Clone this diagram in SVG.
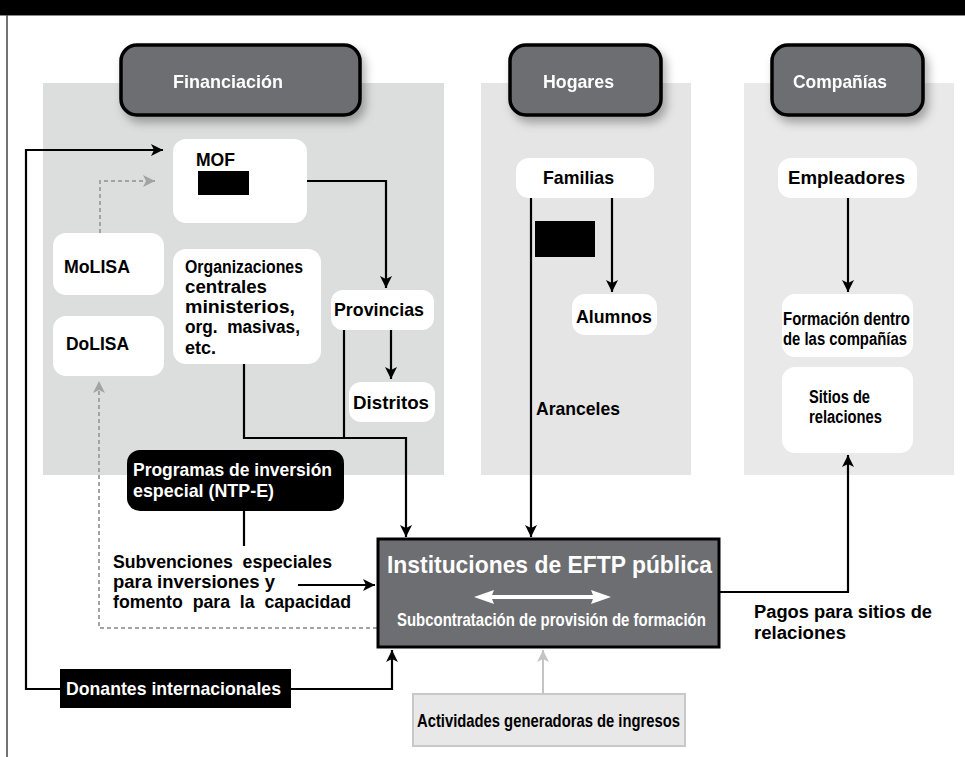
<svg xmlns="http://www.w3.org/2000/svg" width="965" height="757" viewBox="0 0 965 757">
<defs>
<style>
text{font-family:"Liberation Sans Narrow","Liberation Sans",Arial,sans-serif;font-weight:bold;}
.tab rect{fill:#6d6e71;stroke:#000;stroke-width:3.5;}
.tab text{fill:#fff;font-size:19px;}
.node{fill:#fff;}
.t18{font-size:19px;fill:#000;}
.t16{font-size:18px;fill:#000;}
.wt{fill:#fff;}
.ln{fill:none;stroke:#000;stroke-width:2.2;}
.ar{fill:none;stroke:#000;stroke-width:2.2;marker-end:url(#ah);}
.dash{fill:none;stroke:#a3a3a3;stroke-width:2;stroke-dasharray:4 3;marker-end:url(#ahg);}
.red{fill:#000;}
</style>
<marker id="ah" markerUnits="userSpaceOnUse" markerWidth="14" markerHeight="14" refX="12" refY="6" orient="auto">
<path d="M0,0 L12,6 L0,12 L3,6 Z" fill="#000"/>
</marker>
<marker id="ahg" markerUnits="userSpaceOnUse" markerWidth="14" markerHeight="14" refX="12" refY="6" orient="auto">
<path d="M0,0 L12,6 L0,12 L3,6 Z" fill="#a3a3a3"/>
</marker>
<marker id="ahl" markerUnits="userSpaceOnUse" markerWidth="14" markerHeight="14" refX="12" refY="6" orient="auto">
<path d="M0,0 L12,6 L0,12 L3,6 Z" fill="#c4c4c4"/>
</marker>
<filter id="sh" x="-20%" y="-20%" width="150%" height="160%">
<feDropShadow dx="4" dy="6" stdDeviation="5" flood-color="#000" flood-opacity="0.3"/>
</filter>
</defs>

<rect x="0" y="0" width="965" height="757" fill="#fff"/>
<g id="banner">
<rect x="0" y="0" width="965" height="15" fill="#000"/>
<line x1="0" y1="15.5" x2="965" y2="15.5" stroke="#888" stroke-width="1"/>
<line x1="7" y1="15" x2="7" y2="757" stroke="#444" stroke-width="1.5"/>
</g>

<g id="panels">
<rect x="43" y="83" width="401" height="392" fill="#dcdddd"/>
<rect x="481" y="83" width="210" height="392" fill="#e5e5e6"/>
<rect x="744" y="83" width="210" height="392" fill="#e9e9e9"/>
</g>

<g id="tab-financiacion" class="tab" filter="url(#sh)">
<rect x="121" y="45" width="239" height="70" rx="16"/>
<text x="173" y="88" textLength="110" lengthAdjust="spacingAndGlyphs">Financiación</text>
</g>
<g id="tab-hogares" class="tab" filter="url(#sh)">
<rect x="510" y="45" width="151" height="70" rx="16"/>
<text x="543" y="88" textLength="71" lengthAdjust="spacingAndGlyphs">Hogares</text>
</g>
<g id="tab-companias" class="tab" filter="url(#sh)">
<rect x="772" y="45" width="151" height="70" rx="16"/>
<text x="793" y="88" textLength="94" lengthAdjust="spacingAndGlyphs">Compañías</text>
</g>

<g id="connectors">
<path class="ar" d="M60,689 H26 V150 H163"/>
<path class="dash" d="M100,233 V181 H155"/>
<path class="ar" d="M307,181 H386 V288"/>
<path class="ar" d="M391,330 V379"/>
<path class="ln" d="M344,330 V438"/>
<path class="ar" d="M244,364 V438 H406 V537"/>
<path class="ln" d="M244,511 V546"/>
<path class="ar" d="M298,585 H375"/>
<path class="dash" d="M377,628 H99 V381"/>
<path class="ar" d="M291,689 H392 V650"/>
<path fill="none" stroke="#c4c4c4" stroke-width="2" marker-end="url(#ahl)" d="M543,694 V650"/>
<path class="ar" d="M531,198 V537"/>
<path class="ar" d="M612,198 V292"/>
<path class="ar" d="M848,198 V292"/>
<path class="ar" d="M719,592 H848 V455"/>
</g>

<g id="mof">
<rect class="node" x="173" y="139" width="134" height="84" rx="13"/>
<text class="t18" x="196" y="166" textLength="39" lengthAdjust="spacingAndGlyphs">MOF</text>
<rect class="red" x="198" y="171" width="51" height="24"/>
</g>
<g id="molisa">
<rect class="node" x="53" y="233" width="111" height="62" rx="13"/>
<text class="t18" x="64" y="273" textLength="66" lengthAdjust="spacingAndGlyphs">MoLISA</text>
</g>
<g id="dolisa">
<rect class="node" x="53" y="316" width="111" height="60" rx="13"/>
<text class="t18" x="66" y="350" textLength="63" lengthAdjust="spacingAndGlyphs">DoLISA</text>
</g>
<g id="organizaciones">
<rect class="node" x="173" y="249" width="148" height="115" rx="13"/>
<text class="t16" x="185" y="273" textLength="118" lengthAdjust="spacingAndGlyphs">Organizaciones</text>
<text class="t16" x="185" y="293" textLength="82" lengthAdjust="spacingAndGlyphs">centrales</text>
<text class="t16" x="185" y="313" textLength="110" lengthAdjust="spacingAndGlyphs">ministerios,</text>
<text class="t16" x="185" y="333" textLength="115" lengthAdjust="spacingAndGlyphs" xml:space="preserve">org.  masivas,</text>
<text class="t16" x="185" y="354" textLength="31" lengthAdjust="spacingAndGlyphs">etc.</text>
</g>
<g id="provincias">
<rect class="node" x="331" y="290" width="103" height="40" rx="12"/>
<text class="t18" x="334" y="316" textLength="90" lengthAdjust="spacingAndGlyphs">Provincias</text>
</g>
<g id="distritos">
<rect class="node" x="349" y="382" width="86" height="40" rx="12"/>
<text class="t18" x="353" y="409" textLength="76" lengthAdjust="spacingAndGlyphs">Distritos</text>
</g>
<g id="ntpe">
<rect x="127" y="450" width="217" height="61" rx="13" fill="#000"/>
<text class="wt" x="133" y="476" font-size="19" textLength="199" lengthAdjust="spacingAndGlyphs">Programas de inversión</text>
<text class="wt" x="133" y="497" font-size="19" textLength="141" lengthAdjust="spacingAndGlyphs">especial (NTP-E)</text>
</g>
<g id="subvenciones">
<text class="t18" x="113" y="568" textLength="219" lengthAdjust="spacingAndGlyphs" xml:space="preserve">Subvenciones  especiales</text>
<text class="t18" x="113" y="588" textLength="162" lengthAdjust="spacingAndGlyphs">para inversiones y</text>
<text class="t18" x="113" y="608" textLength="238" lengthAdjust="spacingAndGlyphs" xml:space="preserve">fomento  para  la  capacidad</text>
</g>
<g id="donantes">
<rect x="60" y="669" width="231" height="39" fill="#000"/>
<text class="wt" x="66" y="695" font-size="19" textLength="215" lengthAdjust="spacingAndGlyphs">Donantes internacionales</text>
</g>
<g id="familias">
<rect class="node" x="516" y="158" width="138" height="40" rx="13"/>
<text class="t18" x="543" y="184" textLength="71" lengthAdjust="spacingAndGlyphs">Familias</text>
</g>
<g id="redaccion-hogares">
<rect class="red" x="535" y="221" width="60" height="36"/>
</g>
<g id="alumnos">
<rect class="node" x="572" y="294" width="85" height="41" rx="13"/>
<text class="t18" x="576" y="323" textLength="76" lengthAdjust="spacingAndGlyphs">Alumnos</text>
</g>
<g id="aranceles">
<text class="t18" x="536" y="415" textLength="84" lengthAdjust="spacingAndGlyphs">Aranceles</text>
</g>
<g id="empleadores">
<rect class="node" x="778" y="158" width="139" height="40" rx="13"/>
<text class="t18" x="788" y="184" textLength="117" lengthAdjust="spacingAndGlyphs">Empleadores</text>
</g>
<g id="formacion">
<rect class="node" x="782" y="294" width="131" height="63" rx="13"/>
<text class="t16" x="783" y="325" textLength="127" lengthAdjust="spacingAndGlyphs">Formación dentro</text>
<text class="t16" x="783" y="345" textLength="124" lengthAdjust="spacingAndGlyphs">de las compañías</text>
</g>
<g id="sitios">
<rect class="node" x="782" y="367" width="131" height="86" rx="13"/>
<text class="t16" x="809" y="403" textLength="61" lengthAdjust="spacingAndGlyphs">Sitios de</text>
<text class="t16" x="809" y="423" textLength="73" lengthAdjust="spacingAndGlyphs">relaciones</text>
</g>
<g id="eftp">
<rect x="378" y="539" width="341" height="108" fill="#6d6e71" stroke="#000" stroke-width="3"/>
<text class="wt" x="387" y="573" font-size="24" textLength="325" lengthAdjust="spacingAndGlyphs">Instituciones de EFTP pública</text>
<polygon fill="#fff" points="474,597 494,590 492,595 593,595 591,590 611,597 591,604 593,599 492,599 494,604"/>
<text class="wt" transform="translate(397,626) scale(0.8,1)" x="0" y="0" font-size="19" textLength="386" lengthAdjust="spacingAndGlyphs">Subcontratación de provisión de formación</text>
</g>
<g id="pagos">
<text class="t16"><tspan x="754" y="618" textLength="178" lengthAdjust="spacingAndGlyphs">Pagos para sitios de</tspan><tspan x="754" y="639" textLength="92" lengthAdjust="spacingAndGlyphs">relaciones</tspan></text>
</g>
<g id="actividades">
<rect x="413" y="694" width="272" height="52" fill="#e8e8e8" stroke="#c8c8c8" stroke-width="2"/>
<text class="t18" x="417" y="727" textLength="263" lengthAdjust="spacingAndGlyphs">Actividades generadoras de ingresos</text>
</g>
</svg>
